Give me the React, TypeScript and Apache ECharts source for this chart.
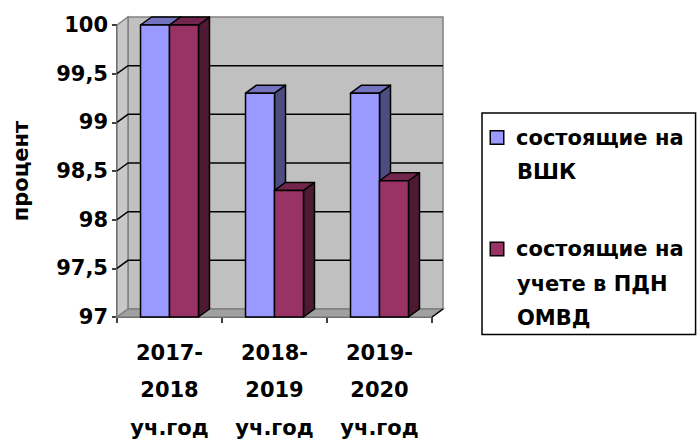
import React, { useEffect, useRef } from "react";
import * as echarts from "echarts";

const categories = ["2017-\n2018\nуч.год", "2018-\n2019\nуч.год", "2019-\n2020\nуч.год"];
const seriesNames = ["состоящие на ВШК", "состоящие на учете в ПДН ОМВД"];
const legendLines = [["состоящие на", "ВШК"], ["состоящие на", "учете в ПДН", "ОМВД"]];
const vshkValues = [100, 99.3, 99.3];
const pdnValues = [100, 98.3, 98.4];
const yMin = 97;
const yMax = 100;
const yStep = 0.5;
const yTicks = [97, 97.5, 98, 98.5, 99, 99.5, 100];
const yAxisName = "процент";

const FONT = "DejaVu Sans";
const DX = 11;
const DY = -8;
const colors = [
  { front: "#9999FF", top: "#7373C0", side: "#4D4D80" },
  { front: "#993366", top: "#73264D", side: "#4D1A33" },
];

export default function App() {
  const ref = useRef<HTMLDivElement>(null);
  useEffect(() => {
    if (!ref.current) return;
    const chart = echarts.init(ref.current, null, { renderer: "svg" });

    const barSeries = (idx: number, values: number[]) => ({
      type: "custom",
      name: seriesNames[idx],
      z: 3,
      itemStyle: { color: colors[idx].front },
      data: values.map((v, i) => [i, v]),
      encode: { x: 0, y: 1 },
      renderItem: (params: any, api: any) => {
        const cat = api.value(0);
        const val = api.value(1);
        const top = api.coord([cat, val]);
        const base = api.coord([cat, yMin]);
        const bw = api.size([1, 0])[0];
        const barW = bw * 0.276;
        const x0 = top[0] - barW + idx * barW;
        const x1 = x0 + barW;
        const ty = top[1];
        const by = base[1];
        const st = { stroke: "#000", lineWidth: 1.5, lineJoin: "round" };
        return {
          type: "group",
          children: [
            {
              type: "polygon",
              shape: { points: [[x1, ty], [x1 + DX, ty + DY], [x1 + DX, by + DY], [x1, by]] },
              style: { fill: colors[idx].side, ...st },
            },
            {
              type: "polygon",
              shape: { points: [[x0, ty], [x1, ty], [x1 + DX, ty + DY], [x0 + DX, ty + DY]] },
              style: { fill: colors[idx].top, ...st },
            },
            {
              type: "rect",
              shape: { x: x0, y: ty, width: barW, height: by - ty },
              style: { fill: colors[idx].front, ...st },
            },
          ],
        };
      },
    });

    const wallSeries = {
      type: "custom",
      name: "walls",
      z: 1,
      silent: true,
      data: [[0, yMin]],
      encode: { x: 0, y: 1 },
      renderItem: (params: any, api: any) => {
        const cs = params.coordSys;
        const x0 = cs.x;
        const x1 = cs.x + cs.width;
        const y0 = api.coord([0, yMax])[1];
        const y1 = api.coord([0, yMin])[1];
        const gray = { stroke: "#808080", lineWidth: 1.5 };
        const children: any[] = [
          {
            type: "polygon",
            shape: { points: [[x0 + DX, y0 + DY], [x1 + DX, y0 + DY], [x1 + DX, y1 + DY], [x0 + DX, y1 + DY]] },
            style: { fill: "#C0C0C0", ...gray },
          },
          {
            type: "polygon",
            shape: { points: [[x0, y0], [x0 + DX, y0 + DY], [x0 + DX, y1 + DY], [x0, y1]] },
            style: { fill: "#C8C8C8", ...gray },
          },
          {
            type: "polygon",
            shape: { points: [[x0, y1], [x1, y1], [x1 + DX, y1 + DY], [x0 + DX, y1 + DY]] },
            style: { fill: "#A0A0A0", ...gray },
          },
        ];
        yTicks.forEach((t) => {
          if (t === yMin || t === yMax) return;
          const y = api.coord([0, t])[1];
          children.push({
            type: "polyline",
            shape: { points: [[x0, y], [x0 + DX, y + DY], [x1 + DX, y + DY]] },
            style: { stroke: "#000", lineWidth: 1.5, fill: null },
          });
        });
        children.push({
          type: "polyline",
          shape: { points: [[x1, y1], [x1 + DX, y1 + DY]] },
          style: { stroke: "#000", lineWidth: 1.5, fill: null },
        });
        return { type: "group", children };
      },
    };

    const rich: any = {
      t: { fontFamily: FONT, fontWeight: "bold", fontSize: 21, color: "#000", lineHeight: 34.5 },
      g: { width: 13, lineHeight: 34.5 },
      sp: { width: 26, lineHeight: 34.5 },
      s0: { width: 12, height: 12, backgroundColor: colors[0].front, borderColor: "#000", borderWidth: 1.5, lineHeight: 34.5 },
      s1: { width: 12, height: 12, backgroundColor: colors[1].front, borderColor: "#000", borderWidth: 1.5, lineHeight: 34.5 },
    };

    chart.setOption({
      animation: false,
      textStyle: { fontFamily: FONT },
      grid: { left: 117, right: 267, top: 25, bottom: 125, containLabel: false, outerBoundsMode: "none" },
      legend: {
        orient: "vertical",
        left: 482,
        top: 113,
        icon: "rect",
        itemWidth: 0,
        itemHeight: 0,
        itemGap: 56,
        padding: [14, 12, 6, 4],
        borderColor: "#000",
        borderWidth: 1.5,
        selectedMode: false,
        data: seriesNames,
        textStyle: { rich },
        formatter: (name: string) => {
          const i = seriesNames.indexOf(name);
          return legendLines[i]
            .map((l, k) => (k === 0 ? `{s${i}| }{g| }{t|${l}}` : `{sp| }{t|${l}}`))
            .join("\n");
        },
      },
      xAxis: {
        type: "category",
        data: categories,
        axisLine: { lineStyle: { color: "#000", width: 1.5 } },
        axisTick: { show: true, length: 6, alignWithLabel: false, lineStyle: { color: "#000", width: 1.5 } },
        axisLabel: {
          interval: 0,
          margin: 17,
          fontFamily: FONT,
          fontWeight: "bold",
          fontSize: 21,
          lineHeight: 37.5,
          color: "#000",
        },
        splitLine: { show: false },
      },
      yAxis: {
        type: "value",
        min: yMin,
        max: yMax,
        interval: yStep,
        name: yAxisName,
        nameLocation: "middle",
        nameGap: 86,
        nameTextStyle: { fontFamily: FONT, fontWeight: "bold", fontSize: 21, color: "#000" },
        axisLine: { show: true, lineStyle: { color: "#000", width: 1.5 } },
        axisTick: { show: true, length: 5, lineStyle: { color: "#000", width: 1.5 } },
        axisLabel: {
          margin: 9,
          fontFamily: FONT,
          fontWeight: "bold",
          fontSize: 21,
          color: "#000",
          formatter: (v: number) => String(v).replace(".", ","),
        },
        splitLine: { show: false },
      },
      series: [wallSeries, barSeries(0, vshkValues), barSeries(1, pdnValues)],
    });
    return () => chart.dispose();
  }, []);
  return <div ref={ref} style={{ width: 699, height: 442, position: "absolute", left: 0, top: 0 }} />;
}
